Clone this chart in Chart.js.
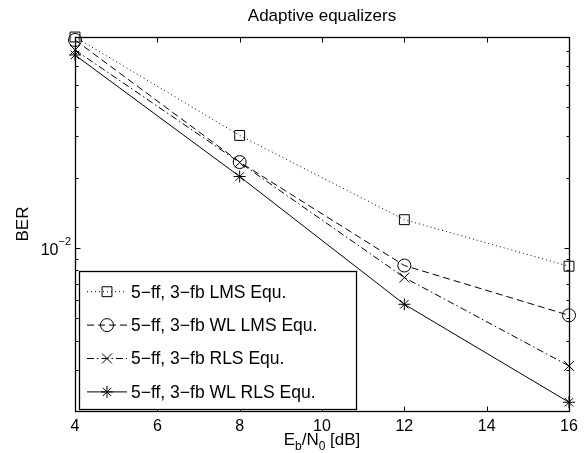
<!DOCTYPE html>
<html><head><meta charset="utf-8">
<script src="https://cdn.jsdelivr.net/npm/chart.js@4/dist/chart.umd.min.js"></script>
<style>html,body{margin:0;padding:0;background:#fff;}canvas{display:block;}</style>
</head><body>
<canvas id="c" width="584" height="453"></canvas>
<script>
// ---- data ----
const snrDb = [4, 8, 12, 16];
const lmsBer = [0.0800, 0.0303, 0.0132, 0.00834];
const wlLmsBer = [0.0777, 0.0233, 0.0084, 0.00514];
const rlsBer = [0.0704, 0.0232, 0.00746, 0.00312];
const wlRlsBer = [0.0670, 0.0202, 0.00573, 0.00218];
const seriesLabels = ['5\u2212ff, 3\u2212fb LMS Equ.', '5\u2212ff, 3\u2212fb WL LMS Equ.', '5\u2212ff, 3\u2212fb RLS Equ.', '5\u2212ff, 3\u2212fb WL RLS Equ.'];
const xTickValues = [4, 6, 8, 10, 12, 14, 16];
const yMajorTickValues = [0.01];
const yMinorTickValues = [0.003, 0.004, 0.005, 0.006, 0.007, 0.008, 0.009, 0.02, 0.03, 0.04, 0.05, 0.06, 0.07];
const titleText = 'Adaptive equalizers';
const yLabelText = 'BER';
const xLabelParts = [['E', 0], ['b', 1], ['/N', 0], ['0', 1], [' [dB]', 0]];

const FONT = '"Liberation Sans", Arial, Helvetica, sans-serif';
const pts = arr => snrDb.map((x, i) => ({x: x, y: arr[i]}));

const styles = [
  {dash: [1, 3], point: 'rect', r: 7},
  {dash: [7, 4], point: 'circle', r: 6.5},
  {dash: [7, 3, 1.5, 3], point: 'crossRot', r: 7},
  {dash: [], point: 'star', r: 6}
];
const seriesData = [lmsBer, wlLmsBer, rlsBer, wlRlsBer];

const datasets = seriesData.map((d, i) => ({
  label: seriesLabels[i],
  data: pts(d),
  borderColor: '#000',
  borderWidth: 1,
  borderDash: styles[i].dash,
  pointStyle: styles[i].point,
  pointRadius: styles[i].r,
  pointBorderColor: '#000',
  pointBackgroundColor: 'rgba(0,0,0,0)',
  pointBorderWidth: 1,
  fill: false,
  tension: 0,
  clip: false
}));

const decorPlugin = {
  id: 'decor',
  afterDraw(chart) {
    const ctx = chart.ctx;
    const a = chart.chartArea;
    const xs = chart.scales.x, ys = chart.scales.y;
    ctx.save();
    ctx.strokeStyle = '#000';
    ctx.setLineDash([]);
    // axes box
    const L = Math.round(a.left) + 0.5, R = Math.round(a.right) + 0.5;
    const T = Math.round(a.top) + 0.5, B = Math.round(a.bottom) + 0.5;
    ctx.lineWidth = 1.3;
    ctx.strokeRect(L, T, R - L, B - T);
    ctx.lineWidth = 1;
    // inward ticks
    ctx.beginPath();
    xTickValues.forEach(v => {
      const px = Math.round(xs.getPixelForValue(v)) + 0.5;
      ctx.moveTo(px, B); ctx.lineTo(px, B - 5);
      ctx.moveTo(px, T); ctx.lineTo(px, T + 5);
    });
    yMajorTickValues.forEach(v => {
      const py = Math.round(ys.getPixelForValue(v)) + 0.5;
      ctx.moveTo(L, py); ctx.lineTo(L + 5, py);
      ctx.moveTo(R, py); ctx.lineTo(R - 5, py);
    });
    yMinorTickValues.forEach(v => {
      const py = Math.round(ys.getPixelForValue(v)) + 0.5;
      ctx.moveTo(L, py); ctx.lineTo(L + 3, py);
      ctx.moveTo(R, py); ctx.lineTo(R - 3, py);
    });
    ctx.stroke();

    // title, centred over the plot
    ctx.fillStyle = '#000';
    ctx.font = '17px ' + FONT;
    ctx.textAlign = 'center';
    ctx.textBaseline = 'alphabetic';
    ctx.fillText(titleText, (a.left + a.right) / 2, 21);

    // y tick labels 10^n
    yMajorTickValues.forEach(v => {
      const py = ys.getPixelForValue(v);
      const exp = Math.round(Math.log10(v));
      const expStr = (exp < 0 ? '\u2212' : '') + Math.abs(exp);
      ctx.font = '11px ' + FONT;
      const ew = ctx.measureText(expStr).width;
      const rightEdge = a.left - 4;
      ctx.textAlign = 'left';
      ctx.fillText(expStr, rightEdge - ew, py - 3);
      ctx.font = '16px ' + FONT;
      ctx.textAlign = 'right';
      ctx.fillText('10', rightEdge - ew, py + 7);
    });

    // x label with subscripts
    const baseSize = 17, subSize = 12;
    let total = 0;
    xLabelParts.forEach(p => {
      ctx.font = (p[1] ? subSize : baseSize) + 'px ' + FONT;
      total += ctx.measureText(p[0]).width;
    });
    let cx = (a.left + a.right) / 2 - total / 2;
    const baseY = 445;
    ctx.textAlign = 'left';
    xLabelParts.forEach(p => {
      ctx.font = (p[1] ? subSize : baseSize) + 'px ' + FONT;
      ctx.fillText(p[0], cx, baseY + (p[1] ? 5 : 0));
      cx += ctx.measureText(p[0]).width;
    });

    // legend box
    const lx = a.left + 4, lyB = a.bottom - 2, lw = 277, rowH = 33.4, lh = 138;
    const ly = lyB - lh;
    ctx.fillStyle = '#fff';
    ctx.fillRect(lx, ly, lw, lh);
    ctx.lineWidth = 1.3;
    ctx.strokeStyle = '#000';
    ctx.strokeRect(Math.round(lx) + 0.5, Math.round(ly) + 0.5, lw, lh);
    ctx.lineWidth = 1;
    chart.data.datasets.forEach((ds, i) => {
      const cy = ly + 20.7 + i * rowH;
      ctx.save();
      ctx.strokeStyle = '#000';
      ctx.lineWidth = 1;
      ctx.setLineDash(ds.borderDash || []);
      ctx.beginPath();
      ctx.moveTo(lx + 8, cy); ctx.lineTo(lx + 48, cy);
      ctx.stroke();
      ctx.setLineDash([]);
      ctx.fillStyle = 'rgba(0,0,0,0)';
      if (Chart.helpers && Chart.helpers.drawPoint) {
        Chart.helpers.drawPoint(ctx, {pointStyle: ds.pointStyle, radius: ds.pointRadius, rotation: 0, borderWidth: 1}, lx + 28, cy);
      }
      ctx.restore();
      ctx.fillStyle = '#000';
      ctx.font = '17.5px ' + FONT;
      ctx.textAlign = 'left';
      ctx.textBaseline = 'middle';
      ctx.fillText(ds.label, lx + 52, cy + 1);
    });
    ctx.restore();
  }
};

new Chart(document.getElementById('c'), {
  type: 'line',
  data: {datasets: datasets},
  options: {
    responsive: false,
    animation: false,
    devicePixelRatio: 1,
    layout: {padding: {left: 0, right: 15, top: 37, bottom: 0}},
    plugins: {
      legend: {display: false},
      tooltip: {enabled: false},
      title: {display: false}
    },
    scales: {
      x: {
        type: 'linear', min: 4, max: 16,
        grid: {display: false}, border: {display: false},
        afterBuildTicks: s => { s.ticks = xTickValues.map(v => ({value: v})); },
        afterFit: s => { s.height = 42; },
        ticks: {color: '#000', font: {family: FONT, size: 16}, padding: -2, maxRotation: 0, autoSkip: false}
      },
      y: {
        type: 'logarithmic', min: 0.002, max: 0.08,
        grid: {display: false}, border: {display: false},
        afterFit: s => { s.width = 75; },
        ticks: {display: false},
        title: {display: true, text: yLabelText, color: '#000', font: {family: FONT, size: 17}, padding: {top: 13, bottom: 0}}
      }
    }
  },
  plugins: [decorPlugin]
});
</script>
</body></html>
